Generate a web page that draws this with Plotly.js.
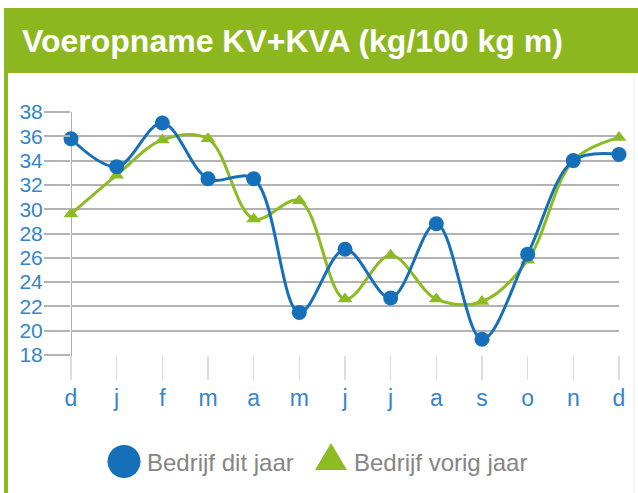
<!DOCTYPE html>
<html>
<head>
<meta charset="utf-8">
<script src="https://cdn.plot.ly/plotly-3.0.1.min.js"></script>
<style>html,body{margin:0;padding:0;background:#fff;}#chart{width:638px;height:493px;}</style>
</head>
<body>
<div id="chart"></div>
<script>
var xIndex = [0,1,2,3,4,5,6,7,8,9,10,11,12];
var monthLabels = ['d','j','f','m','a','m','j','j','a','s','o','n','d'];
var ditJaar = [35.8, 33.5, 37.1, 32.5, 32.5, 21.5, 26.7, 22.7, 28.8, 19.3, 26.3, 34.0, 34.5];
var vorigJaar = [29.6, 32.8, 35.7, 35.8, 29.2, 30.7, 22.6, 26.2, 22.6, 22.4, 25.8, 34.0, 35.9];
var yTicks = [18,20,22,24,26,28,30,32,34,36,38];
var seriesNames = ['Bedrijf dit jaar', 'Bedrijf vorig jaar'];
var titleText = 'Voeropname KV+KVA (kg/100 kg m)';

var BLUE = '#1670b9', GREEN = '#8dbb24', HEAD = '#8cb71f', LBL = '#3585c9';
var L = 71, R = 619, T = 112, B = 355, PW = 638, PH = 493;
function px(x){ return (x - L) / (R - L); }
function py(y){ return (B - y) / (B - T); }

var traces = [
  {x: xIndex, y: vorigJaar, name: seriesNames[1], type: 'scatter', mode: 'lines+markers',
   line: {color: GREEN, width: 3, shape: 'spline', smoothing: 1},
   marker: {symbol: 'triangle-up', size: 13, color: GREEN}, cliponaxis: false, showlegend: false},
  {x: xIndex, y: ditJaar, name: seriesNames[0], type: 'scatter', mode: 'lines+markers',
   line: {color: BLUE, width: 3, shape: 'spline', smoothing: 1},
   marker: {symbol: 'circle', size: 15, color: BLUE}, cliponaxis: false, showlegend: false}
];

var tri = 'M ' + px(315) + ' ' + py(470) + ' L ' + px(347) + ' ' + py(470) + ' L ' + px(331) + ' ' + py(443) + ' Z';

var layout = {
  width: PW, height: PH,
  margin: {l: L, r: PW - R, t: T, b: PH - B},
  paper_bgcolor: '#fff', plot_bgcolor: '#fff',
  font: {family: 'Liberation Sans, Arial, sans-serif'},
  title: {text: titleText, xref: 'container', yref: 'container', x: 22/PW, xanchor: 'left',
          y: 1 - 41/PH, yanchor: 'middle',
          font: {family: 'Liberation Sans, Arial, sans-serif', size: 32, color: '#fff', weight: 'bold'}},
  xaxis: {range: [0, 12], tickvals: xIndex, ticktext: monthLabels, showgrid: false, zeroline: false,
          ticks: 'outside', ticklen: 24, tickcolor: '#dcdcdc', tickwidth: 1.5,
          tickfont: {size: 23, color: LBL}, ticklabelstandoff: -2, showline: false, fixedrange: true},
  yaxis: {range: [18, 38], tickvals: yTicks, showgrid: true, gridcolor: '#b3b3b3', gridwidth: 2,
          zeroline: false, ticks: 'outside', ticklen: 26, tickcolor: '#b3b3b3', tickwidth: 2,
          tickfont: {size: 21, color: LBL}, ticklabelstandoff: -3, showline: false, fixedrange: true},
  shapes: [
    {type: 'rect', xref: 'paper', yref: 'paper', x0: px(4), x1: px(640), y0: py(73), y1: py(8),
     fillcolor: HEAD, line: {width: 0}, layer: 'below'},
    {type: 'rect', xref: 'paper', yref: 'paper', x0: px(4), x1: px(8), y0: py(495), y1: py(8),
     fillcolor: HEAD, line: {width: 0}, layer: 'below'},
    {type: 'line', xref: 'paper', yref: 'paper', x0: px(634), x1: px(634), y0: py(495), y1: py(74),
     line: {color: '#ececec', width: 1}, layer: 'below'},
    {type: 'line', xref: 'x', yref: 'paper', x0: 0, x1: 0, y0: py(380), y1: 1,
     line: {color: '#b0b0b0', width: 2}, layer: 'below'},
    {type: 'circle', xref: 'paper', yref: 'paper', x0: px(107.5), x1: px(140.5), y0: py(478), y1: py(445),
     fillcolor: BLUE, line: {width: 0}},
    {type: 'path', xref: 'paper', yref: 'paper', path: tri, fillcolor: GREEN, line: {width: 0}}
  ],
  annotations: [
    {xref: 'paper', yref: 'paper', x: px(145), y: py(462), xanchor: 'left', yanchor: 'middle',
     text: seriesNames[0], showarrow: false, font: {size: 24, color: '#858585'}},
    {xref: 'paper', yref: 'paper', x: px(352), y: py(462), xanchor: 'left', yanchor: 'middle',
     text: seriesNames[1], showarrow: false, font: {size: 24, color: '#858585'}}
  ]
};

Plotly.newPlot('chart', traces, layout, {displayModeBar: false, staticPlot: true});
</script>
</body>
</html>
